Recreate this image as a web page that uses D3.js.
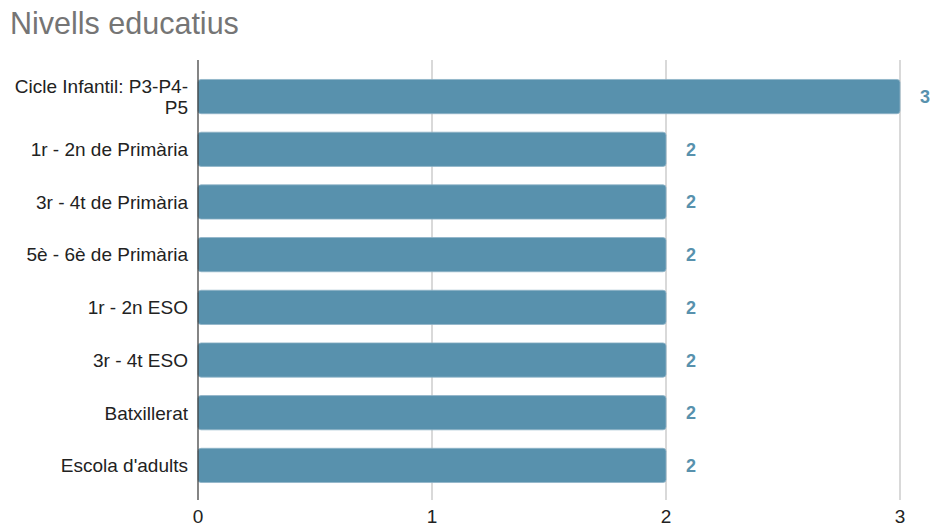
<!DOCTYPE html>
<html>
<head>
<meta charset="utf-8">
<script src="https://cdnjs.cloudflare.com/ajax/libs/d3/7.8.5/d3.min.js"></script>
<style>
  body { margin: 0; background: #fff; }
  text { font-family: "Liberation Sans", Arial, sans-serif; }
</style>
</head>
<body>
<div id="chart"></div>
<script>
var categories = ["Cicle Infantil: P3-P4-P5", "1r - 2n de Primària", "3r - 4t de Primària",
    "5è - 6è de Primària", "1r - 2n ESO", "3r - 4t ESO", "Batxillerat", "Escola d'adults"];
var values = [3, 2, 2, 2, 2, 2, 2, 2];
var ticks = [0, 1, 2, 3];

(function(){
    var width = 931;
    var height = 528;

    var margin = { top: 70, bottom: 36, left: 198, right: 31 };

    var svg = d3.select("#chart")
        .append("svg")
            .attr("width", width)
            .attr("height", height);

    svg.append("text")
        .attr("x", 10)
        .attr("y", 34)
        .attr("fill", "#757575")
        .style("font-size", "30.5px")
        .text("Nivells educatius");

    var x = d3.scaleLinear()
        .domain([0, 3])
        .range([margin.left, 900]);

    var y = d3.scaleBand()
        .domain(categories)
        .range([margin.top, height - margin.bottom])
        .paddingInner(0.35)
        .paddingOuter(0.18);

    // gridlines
    svg.append("g")
        .selectAll("line")
        .data(ticks.slice(1))
        .enter()
        .append("line")
            .attr("x1", function(d) { return x(d); })
            .attr("x2", function(d) { return x(d); })
            .attr("y1", 60)
            .attr("y2", 500)
            .attr("stroke", "#cccccc")
            .attr("stroke-width", 1.5);

    svg.append("g")
        .selectAll("rect")
        .data(values)
        .enter()
        .append("rect")
            .attr("x", x(0))
            .attr("y", function(d, i) { return y(categories[i]); })
            .attr("width", function(d) { return x(d) - x(0); })
            .attr("height", y.bandwidth())
            .attr("rx", 3)
            .attr("fill", "#5891ad")
            .attr("stroke", "#8fb4c8")
            .attr("stroke-width", 0.8);

    // baseline
    svg.append("line")
        .attr("x1", x(0)).attr("x2", x(0))
        .attr("y1", 60).attr("y2", 500)
        .attr("stroke", "#333")
        .attr("stroke-width", 1.2);

    svg.append("g")
        .selectAll("text")
        .data(values)
        .enter()
        .append("text")
            .attr("x", function(d) { return x(d) + 20; })
            .attr("y", function(d, i) { return y(categories[i]) + y.bandwidth() / 2; })
            .attr("dy", "0.36em")
            .attr("fill", "#5891ad")
            .style("font-size", "18px")
            .style("font-weight", "bold")
            .text(function(d) { return d; });

    // category labels, wrapped to fit
    var labels = svg.append("g")
        .selectAll("text")
        .data(categories)
        .enter()
        .append("text")
            .attr("text-anchor", "end")
            .attr("fill", "#222")
            .style("font-size", "19px");

    labels.each(function(d) {
        var t = d3.select(this);
        var cy = y(d) + y.bandwidth() / 2;
        var lines = d.indexOf("Cicle") === 0 ? ["Cicle Infantil: P3-P4-", "P5"] : [d];
        var lh = 21;
        lines.forEach(function(l, i) {
            t.append("tspan")
                .attr("x", 188)
                .attr("y", cy + (i - (lines.length - 1) / 2) * lh)
                .attr("dy", "0.36em")
                .text(l);
        });
    });

    svg.append("g")
        .selectAll("text")
        .data(ticks)
        .enter()
        .append("text")
            .attr("x", function(d) { return x(d); })
            .attr("y", 523)
            .attr("text-anchor", "middle")
            .attr("fill", "#222")
            .style("font-size", "19px")
            .text(function(d) { return d; });
})();
</script>
</body>
</html>
